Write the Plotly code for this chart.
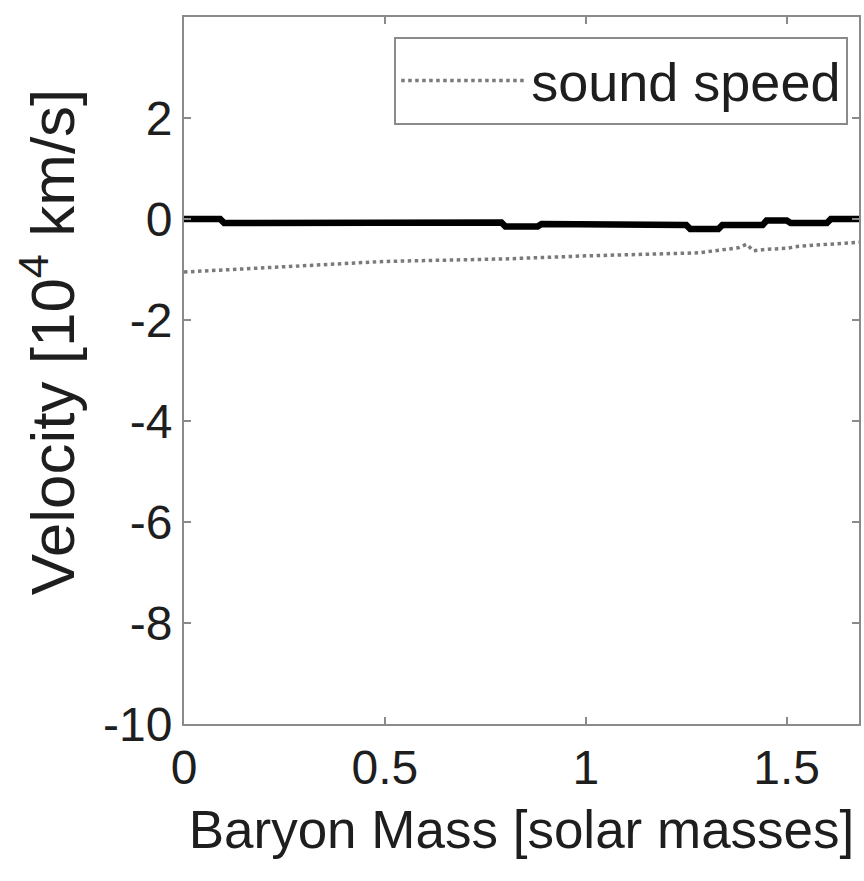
import plotly.graph_objects as go

# Main (black) velocity profile
mass_black = [0.0, 0.09, 0.10, 0.46, 0.47, 0.79, 0.80, 0.88, 0.89, 1.03, 1.04,
              1.25, 1.26, 1.33, 1.34, 1.44, 1.45, 1.50, 1.51, 1.60, 1.61, 1.68]
vel_black = [0.0, 0.0, -0.08, -0.08, -0.05, -0.07, -0.15, -0.15, -0.10, -0.10, -0.12,
             -0.12, -0.20, -0.20, -0.12, -0.12, -0.03, -0.03, -0.08, -0.08, 0.0, 0.0]

# Sound speed (dotted)
mass_sound = [0.0, 0.25, 0.5, 0.8, 1.0, 1.28, 1.38, 1.40, 1.417, 1.45, 1.5, 1.53, 1.6, 1.665, 1.68]
vel_sound = [-1.05, -0.95, -0.84, -0.79, -0.73, -0.67, -0.57, -0.50, -0.63, -0.60, -0.58, -0.54, -0.51, -0.48, -0.46]

x_ticks = [0, 0.5, 1, 1.5]
x_ticktext = ["0", "0.5", "1", "1.5"]
y_ticks = [2, 0, -2, -4, -6, -8, -10]
y_ticktext = ["2", "0", "-2", "-4", "-6", "-8", "-10"]

font_family = "Liberation Sans, Arial, Helvetica, sans-serif"
axis_col = "#8a8a8a"
text_col = "#1e1e1e"

fig = go.Figure()
fig.add_trace(go.Scatter(x=mass_black, y=vel_black, mode="lines",
                         line=dict(color="black", width=6.5), showlegend=False))
fig.add_trace(go.Scatter(x=mass_sound, y=vel_sound, mode="lines", name="sound speed",
                         line=dict(color="#7a7a7a", width=3.5, dash="dot")))

axis_common = dict(showgrid=False, zeroline=False, showline=True, linecolor=axis_col,
                   linewidth=2, mirror="ticks", ticks="inside", ticklen=7,
                   tickcolor=axis_col, tickwidth=2,
                   tickfont=dict(family=font_family, size=48, color=text_col))

fig.update_layout(
    width=864, height=881,
    margin=dict(l=184, r=3, t=17, b=157),
    paper_bgcolor="white", plot_bgcolor="white",
    xaxis=dict(range=[0, 1.68], tickvals=x_ticks, ticktext=x_ticktext,
               title=dict(text="Baryon Mass [solar masses]", standoff=18,
                          font=dict(family=font_family, size=53, color=text_col)),
               **axis_common),
    yaxis=dict(range=[-10, 4], tickvals=y_ticks, ticktext=y_ticktext,
               **axis_common),
    legend=dict(x=0.984, y=0.972, xanchor="right", yanchor="top",
                bgcolor="white", bordercolor=axis_col, borderwidth=2,
                itemwidth=125,
                font=dict(family=font_family, size=54, color=text_col)),
    annotations=[dict(text="Velocity [10<sup>4</sup> km/s]", textangle=-90,
                      xref="paper", yref="paper", x=0, y=0.54,
                      xanchor="center", yanchor="middle", xshift=-136,
                      showarrow=False,
                      font=dict(family=font_family, size=62, color=text_col))],
)

fig.write_html("out.html")
